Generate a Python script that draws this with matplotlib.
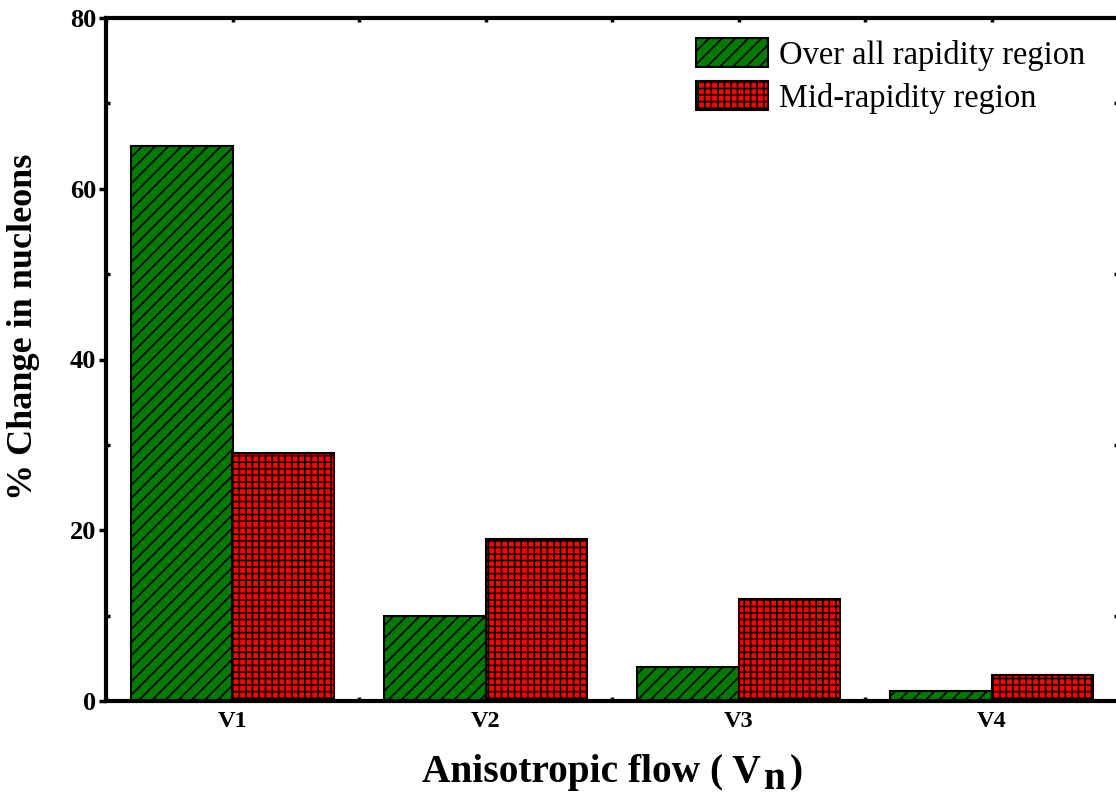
import numpy as np
import matplotlib.pyplot as plt
from matplotlib.ticker import MultipleLocator

DPI = 118
S = 100 / DPI  # keep point sizes as if drawn at 100 dpi; higher dpi only widens the hatch spacing

plt.rcParams['font.family'] = ['Liberation Serif', 'DejaVu Serif']
plt.rcParams['hatch.linewidth'] = 1.2 * S

categories = ['V1', 'V2', 'V3', 'V4']
over_all = [65, 10, 4, 1.2]
mid_rapidity = [29, 19, 12, 3]

W, H = 1116, 796
x = np.arange(1, len(categories) + 1)
w = 0.4

fig = plt.figure(figsize=(W / DPI, H / DPI), dpi=DPI)
ax = fig.add_axes([106 / W, 1 - 701 / H, (1118 - 106) / W, (701 - 18) / H])

ax.bar(x - w / 2, over_all, w, color='#007a00', edgecolor='black', hatch='///',
       linewidth=1.5 * S, label='Over all rapidity region')
ax.bar(x + w / 2, mid_rapidity, w, color='#ff0000', edgecolor='black', hatch='+++',
       linewidth=1.5 * S, label='Mid-rapidity region')

ax.set_xlim(0.5, 4.5)
ax.set_ylim(0, 80)
ax.set_xticks(x)
ax.set_xticklabels(categories, fontsize=17.5 * S, fontweight='bold')
ax.xaxis.set_minor_locator(MultipleLocator(0.5))
ax.yaxis.set_major_locator(MultipleLocator(20))
ax.yaxis.set_minor_locator(MultipleLocator(10))
for lab in ax.get_yticklabels():
    lab.set_fontsize(19 * S)
    lab.set_fontweight('bold')

for sp in ax.spines.values():
    sp.set_linewidth(3 * S)

ax.tick_params(axis='y', which='major', left=True, right=True, direction='out',
               length=5 * S, width=2.5 * S, pad=2 * S)
ax.tick_params(axis='y', which='minor', left=True, right=True, direction='in',
               length=3 * S, width=2.5 * S)
ax.tick_params(axis='x', which='both', top=True, bottom=True, direction='in',
               length=3 * S, width=2.5 * S)
ax.tick_params(axis='x', which='major', pad=7 * S)

# y label
fig.text(24 / W, 1 - 327 / H, '% Change in nucleons', rotation=90, ha='center', va='center',
         fontsize=26 * S, fontweight='bold')

# x label with a full-size, lowered subscript n
fs = 28.4 * S
renderer = fig.canvas.get_renderer()
t1 = fig.text(422 / W, 1 - 782 / H, 'Anisotropic flow ( V', ha='left', va='baseline',
              fontsize=fs, fontweight='bold')
x1 = t1.get_window_extent(renderer).x1
t2 = fig.text((x1 + 3) / W, 1 - 789 / H, 'n', ha='left', va='baseline',
              fontsize=fs, fontweight='bold')
x2 = t2.get_window_extent(renderer).x1
fig.text((x2 + 4) / W, 1 - 782 / H, ')', ha='left', va='baseline',
         fontsize=fs, fontweight='bold')

ax.legend(loc='upper left', bbox_to_anchor=(696 / W, 1 - 38 / H), bbox_transform=fig.transFigure,
          fontsize=23.4 * S, frameon=False, borderpad=0, borderaxespad=0,
          handlelength=2.2, handleheight=1.0, handletextpad=0.34, labelspacing=0.33)

fig.savefig('out.png', dpi=DPI)
